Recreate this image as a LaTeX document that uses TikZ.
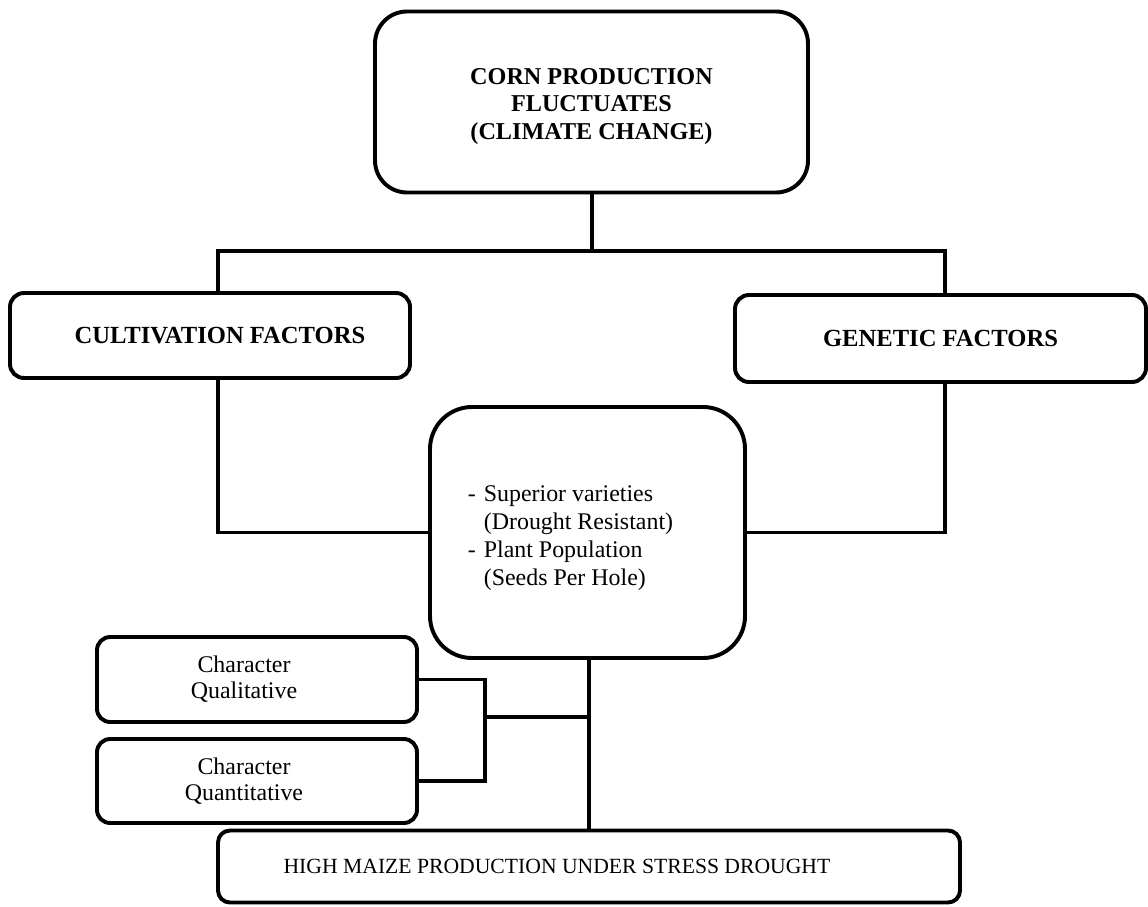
\documentclass[tikz,border=0pt]{standalone}
\usepackage{fontspec}
\setmainfont{Liberation Serif}

\begin{document}
\begin{tikzpicture}[x=0.025cm,y=-0.025cm,
	box/.style={draw,line width=2.8pt,rounded corners=#1,inner sep=0pt,align=center},
	box/.default=0.35cm,
	link/.style={line width=2.8pt,line cap=rect}]
	\useasboundingbox (0,0) rectangle (1148,906);

	%BOXES
	\node[box=0.8cm,minimum width=433*0.025cm,minimum height=181*0.025cm,font=\fontsize{17.2}{19.5}\selectfont\bfseries]
		(corn) at (591.5,102) {\\[-2pt]CORN PRODUCTION\\FLUCTUATES\\(CLIMATE CHANGE)};
	\node[box,minimum width=400*0.025cm,minimum height=85*0.025cm,font=\fontsize{17.5}{20}\selectfont\bfseries]
		(cult) at (210,335.5) {\hspace*{0.5cm}CULTIVATION FACTORS};
	\node[box,minimum width=411*0.025cm,minimum height=87*0.025cm,font=\fontsize{17.5}{20}\selectfont\bfseries]
		(gen) at (940.5,338.5) {GENETIC FACTORS};
	\node[box=1.05cm,minimum width=315*0.025cm,minimum height=251*0.025cm,font=\fontsize{17}{20}\selectfont]
		(mid) at (587.5,532.5) {\raisebox{-0.13cm}[\height][\depth]{\begin{tabular}{@{}l@{\hspace{0.2cm}}l@{}}
			- & Superior varieties\\ & (Drought Resistant)\\
			- & Plant Population\\ & (Seeds Per Hole)\end{tabular}}\hspace*{0.85cm}};
	\node[box=0.33cm,minimum width=320*0.025cm,minimum height=85*0.025cm,font=\fontsize{17}{18.5}\selectfont]
		(qual) at (257,679.5) {Character\hspace*{0.65cm}\\Qualitative\hspace*{0.65cm}};
	\node[box=0.33cm,minimum width=320*0.025cm,minimum height=84*0.025cm,font=\fontsize{17}{18.5}\selectfont]
		(quant) at (257,781) {Character\hspace*{0.65cm}\\Quantitative\hspace*{0.65cm}};
	\node[box=0.3cm,minimum width=742*0.025cm,minimum height=72*0.025cm,font=\fontsize{15.4}{18}\selectfont]
		(high) at (589,866.5) {HIGH MAIZE PRODUCTION UNDER STRESS DROUGHT\hspace*{1.6cm}};

	%JOINTS
	\coordinate (top) at (592,251);
	\coordinate (lx) at (218,0);
	\coordinate (rx) at (945,0);
	\coordinate (brk) at (485,717);

	%LINES
	\draw[link] (corn.south -| top) -- (top);
	\draw[link] (cult.north -| lx) |- (top) -| (gen.north -| rx);
	\draw[link] (cult.south -| lx) |- (mid.west);
	\draw[link] (gen.south -| rx) |- (mid.east);
	\draw[link] (mid.south -| high.north) -- (high.north);
	\draw[link] (qual.east) -| (brk) |- (quant.east);
	\draw[link] (brk) -- (brk -| high.north);
\end{tikzpicture}
\end{document}
